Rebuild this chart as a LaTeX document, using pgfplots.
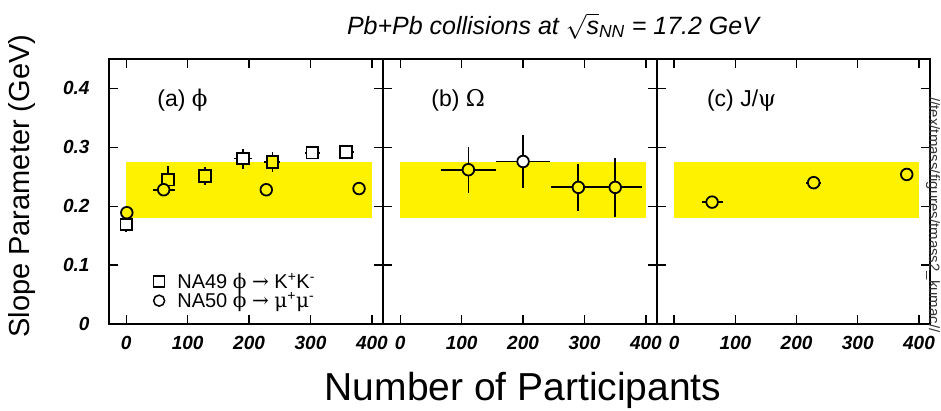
\documentclass[border=0pt]{standalone}
\usepackage{fontspec}
\setmainfont{Liberation Sans}
\newfontfamily\grk{DejaVu Serif}
\usepackage{pgfplots}
\pgfplotsset{compat=1.18}

\pgfplotsset{
  panel/.style={
    scale only axis, width=274pt, height=265pt,
    xmin=-28, xmax=418, ymin=0, ymax=0.45,
    axis line style={line width=2.4pt},
    every tick/.style={black, line width=1.4pt},
    tick align=inside, major tick length=9pt,
    xtick={0,100,200,300,400}, xticklabels={0,100,200,300,400},
    ytick={0,0.1,0.2,0.3,0.4}, yticklabels={},
    ticklabel style={font=\fontsize{19}{19}\selectfont\bfseries\itshape},
    xticklabel style={yshift=-9pt},
    yticklabel style={xshift=-16pt},
    clip=false,
  },
  band/.style={fill=yellow, draw=none, forget plot},
  pt/.style={only marks, forget plot, mark size=5.8pt,
    mark options={line width=1.8pt, draw=black, fill=#1},
    error bars/.cd, x dir=both, x explicit, y dir=both, y explicit,
    error bar style={line width=1.8pt, black}, error mark=none,
    /pgfplots/.cd},
  legmark/.style={legend image code/.code={
    \draw[black, line width=1.5pt, mark=#1, mark size=5.5pt] plot coordinates {(0pt,0pt)};
    \path (-7pt,0pt) (16pt,0pt);}},
}

\begin{document}
\begin{tikzpicture}
\useasboundingbox (0pt,0pt) rectangle (941pt,-410pt);

% (a) phi
\begin{axis}[panel, at={(109pt,-324pt)}, anchor=south west,
  yticklabels={0,0.1,0.2,0.3,0.4},
  ylabel={Slope Parameter (GeV)},
  ylabel style={at={(axis description cs:-0.317,0.52)}, anchor=center,
    font=\fontsize{29}{29}\selectfont},
  legend style={at={(0.145,0.04)}, anchor=south west, draw=none, fill=none,
    font=\fontsize{20}{22}\selectfont, cells={anchor=west}, row sep=-2pt}]
  \addplot[band] coordinates {(0,0.18) (400,0.18) (400,0.275) (0,0.275)} -- cycle;
  % NA49 phi -> KK
  \addplot[mark=square*, pt=white] coordinates {
    (0,0.169) +- (0,0.012)
    (190,0.281) +- (15,0.017)
    (303,0.291) +- (12,0)
    (358,0.292) +- (12,0)
  };
  \addplot[mark=square*, pt=yellow] coordinates {
    (68,0.245) +- (0,0.024)
    (128,0.251) +- (0,0.015)
    (238,0.275) +- (13,0.017)
  };
  % NA50 phi -> mumu
  \addplot[mark=*, pt=yellow] coordinates {
    (1,0.189) +- (0,0)
    (61,0.228) +- (18,0)
    (228,0.228) +- (0,0)
    (379,0.230) +- (0,0)
  };
  \addlegendimage{legmark=square}
  \addlegendentry{NA49 {\grk ϕ} {\grk →} K\textsuperscript{+}K\textsuperscript{-}}
  \addlegendimage{legmark=o}
  \addlegendentry{NA50 {\grk ϕ} {\grk →} {\grk μ}\textsuperscript{+}{\grk μ}\textsuperscript{-}}
  \node[anchor=west, font=\fontsize{23}{23}\selectfont] at (axis cs:45,0.38) {(a) {\grk ϕ}};
\end{axis}

% (b) Omega
\begin{axis}[panel, at={(383pt,-324pt)}, anchor=south west]
  \addplot[band] coordinates {(0,0.18) (400,0.18) (400,0.275) (0,0.275)} -- cycle;
  \addplot[mark=*, pt=yellow] coordinates {
    (111,0.262) +- (45,0.039)
    (290,0.232) +- (45,0.040)
    (350,0.232) +- (43,0.050)
  };
  \addplot[mark=*, pt=white] coordinates {
    (200,0.276) +- (44,0.045)
  };
  \node[anchor=west, font=\fontsize{23}{23}\selectfont] at (axis cs:45,0.38) {(b) {\grk Ω}};
\end{axis}

% (c) J/psi
\begin{axis}[panel, width=273pt, at={(657pt,-324pt)}, anchor=south west]
  \addplot[band] coordinates {(0,0.18) (400,0.18) (400,0.275) (0,0.275)} -- cycle;
  \addplot[mark=*, pt=yellow] coordinates {
    (62,0.207) +- (17,0)
    (228,0.240) +- (12,0)
    (380,0.254) +- (0,0)
  };
  \node[anchor=west, font=\fontsize{23}{23}\selectfont] at (axis cs:48,0.38) {(c) J/{\grk ψ}};
\end{axis}

\node[anchor=base, inner sep=0pt, font=\fontsize{25}{25}\selectfont\itshape] at (553pt,-34pt)
  {Pb+Pb collisions at $\sqrt{\mbox{\itshape s}}$\textsubscript{\itshape NN} = 17.2 GeV};
\node[anchor=base, font=\fontsize{39}{39}\selectfont] at (523pt,-400pt) {Number of Participants};
\node[rotate=-90, inner sep=0pt, font=\fontsize{15}{15}\selectfont, text=black!80] at (933pt,-215pt)
  {//tex/tmass/figures/tmass2\_kumac//};
\end{tikzpicture}
\end{document}
